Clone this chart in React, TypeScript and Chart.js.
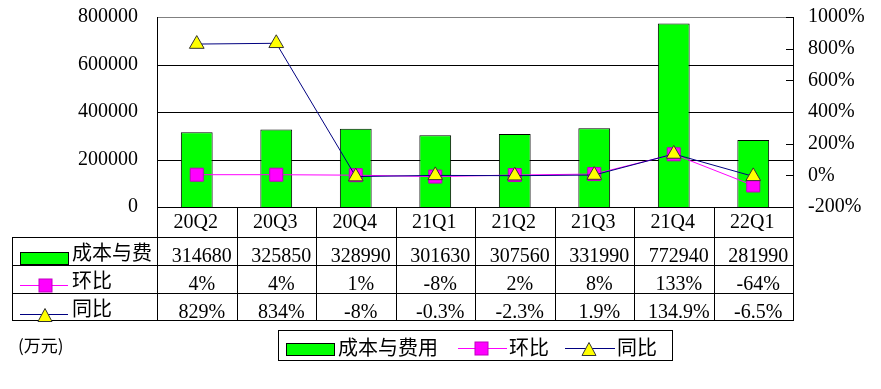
import React, { useEffect, useRef } from "react";
import { Chart, registerables } from "chart.js";

Chart.register(...registerables);

const categories = ["20Q2", "20Q3", "20Q4", "21Q1", "21Q2", "21Q3", "21Q4", "22Q1"];
const costValues = [314680, 325850, 328990, 301630, 307560, 331990, 772940, 281990];
const qoqValues = [4, 4, 1, -8, 2, 8, 133, -64];
const yoyValues = [829, 834, -8, -0.3, -2.3, 1.9, 134.9, -6.5];
const leftTicks = [0, 200000, 400000, 600000, 800000];
const rightTicks = [-200, 0, 200, 400, 600, 800, 1000];
const seriesNames = ["成本与费用", "环比", "同比"];
const unitLabel = "(万元)";

const FONT = '"Liberation Serif", "Noto Sans CJK SC", serif';
const CJK = '"Noto Sans CJK SC", "Liberation Serif", sans-serif';
const GREEN = "#00FF00";
const MAGENTA = "#FF00FF";
const NAVY = "#000080";
const YELLOW = "#FFFF00";

function cr(v: number) {
  return Math.round(v) + 0.5;
}

function line(ctx: CanvasRenderingContext2D, x1: number, y1: number, x2: number, y2: number, color = "#000") {
  ctx.beginPath();
  ctx.strokeStyle = color;
  ctx.lineWidth = 1;
  ctx.moveTo(x1, y1);
  ctx.lineTo(x2, y2);
  ctx.stroke();
}

function square(ctx: CanvasRenderingContext2D, cx: number, cy: number, side: number) {
  ctx.fillStyle = MAGENTA;
  ctx.fillRect(cx - side / 2, cy - side / 2, side, side);
  ctx.strokeStyle = "#c000c0";
  ctx.lineWidth = 1;
  ctx.strokeRect(cx - side / 2, cy - side / 2, side, side);
}

function triangle(ctx: CanvasRenderingContext2D, cx: number, cy: number, w: number, h: number) {
  ctx.beginPath();
  ctx.moveTo(cx, cy - h / 2);
  ctx.lineTo(cx + w / 2, cy + h / 2);
  ctx.lineTo(cx - w / 2, cy + h / 2);
  ctx.closePath();
  ctx.fillStyle = YELLOW;
  ctx.fill();
  ctx.strokeStyle = "#333";
  ctx.lineWidth = 1;
  ctx.stroke();
}

function fmtPct(v: number) {
  return `${v}%`;
}

const tablePlugin = {
  id: "tablePlugin",
  beforeDatasetsDraw(chart: any) {
    const { ctx, chartArea } = chart;
    const { left: L, right: R } = chartArea;
    const yL = chart.scales.y;
    ctx.save();
    leftTicks.forEach((v) => {
      if (v === 0) return;
      const y = cr(yL.getPixelForValue(v));
      line(ctx, L, y, R, y, v === leftTicks[leftTicks.length - 1] ? "#808080" : "#000");
    });
    ctx.restore();
  },
  afterDraw(chart: any) {
    const { ctx, chartArea } = chart;
    const { left: L, right: R, top: T, bottom: B } = chartArea;
    const n = categories.length;
    const colW = (R - L) / n;
    const r0 = B + 30;
    const r1 = B + 58;
    const r2 = B + 86;
    const r3 = B + 113;
    const tL = 12;
    ctx.save();
    // frame
    line(ctx, cr(L), T, cr(L), r3 + 0.5);
    line(ctx, cr(R), T, cr(R), r3 + 0.5);
    for (let i = 1; i < n; i++) {
      const xi = cr(L + i * colW);
      line(ctx, xi, B, xi, r3 + 0.5);
    }
    line(ctx, L, cr(B), R, cr(B));
    [r0, r1, r2, r3].forEach((ry) => line(ctx, tL, cr(ry), R + 1, cr(ry)));
    line(ctx, cr(tL), r0, cr(tL), r3 + 0.5);

    // right axis inward ticks
    const yR = chart.scales.yR;
    rightTicks.forEach((v) => {
      const y = cr(yR.getPixelForValue(v));
      line(ctx, R - 7, y, R, y);
    });

    // header & values
    ctx.fillStyle = "#000";
    ctx.textAlign = "center";
    ctx.textBaseline = "alphabetic";
    ctx.font = `20px ${FONT}`;
    const xs = chart.scales.x;
    categories.forEach((c, i) => {
      const cx = xs.getPixelForValue(i);
      ctx.fillText(c, cx - 1, B + 21);
      ctx.fillText(String(costValues[i]), cx + 5, r1 - 3);
      ctx.fillText(fmtPct(qoqValues[i]), cx + 5, r2 - 3);
      ctx.fillText(fmtPct(yoyValues[i]), cx + 5, r3 - 2);
    });

    // row headers
    ctx.fillStyle = GREEN;
    ctx.fillRect(20, r1 - 13, 48, 13);
    ctx.strokeStyle = "#000";
    ctx.strokeRect(20.5, r1 - 12.5, 48, 12);
    line(ctx, 20, r2 - 7.5, 68, r2 - 7.5, MAGENTA);
    square(ctx, 45.5, r2 - 7.5, 13);
    line(ctx, 20, r3 - 5.5, 68, r3 - 5.5, NAVY);
    triangle(ctx, 45, r3 - 5, 14, 13);

    ctx.textAlign = "left";
    ctx.textBaseline = "middle";
    ctx.font = `20px ${CJK}`;
    ctx.fillStyle = "#000";
    let name0 = seriesNames[0];
    while (name0.length > 1 && 72 + ctx.measureText(name0).width > L) name0 = name0.slice(0, -1);
    ctx.fillText(name0, 72, r0 + 15);
    ctx.fillText(seriesNames[1], 72, r1 + 15);
    ctx.fillText(seriesNames[2], 72, r2 + 15);

    // unit label
    ctx.font = `17px ${CJK}`;
    ctx.fillText(unitLabel, 18, 346);

    // legend
    const lgT = 330;
    const lgB = 360;
    ctx.strokeStyle = "#000";
    ctx.strokeRect(278.5, lgT + 0.5, 394, lgB - lgT);
    ctx.fillStyle = GREEN;
    ctx.fillRect(286, 343, 49, 13);
    ctx.strokeRect(286.5, 343.5, 48, 12);
    ctx.fillStyle = "#000";
    ctx.font = `20px ${CJK}`;
    ctx.fillText(seriesNames[0], 338, 347);
    line(ctx, 458, 348.5, 507, 348.5, MAGENTA);
    square(ctx, 481.5, 348.5, 13);
    ctx.fillStyle = "#000";
    ctx.fillText(seriesNames[1], 509, 347);
    line(ctx, 565, 348.5, 615, 348.5, NAVY);
    triangle(ctx, 589, 349, 14, 13);
    ctx.fillStyle = "#000";
    ctx.fillText(seriesNames[2], 617, 347);
    ctx.restore();
  },
};

export default function App() {
  const ref = useRef<HTMLCanvasElement>(null);
  useEffect(() => {
    const canvas = ref.current;
    if (!canvas) return;
    const chart = new Chart(canvas, {
      type: "bar",
      data: {
        labels: categories,
        datasets: [
          {
            type: "bar",
            label: seriesNames[0],
            data: costValues,
            yAxisID: "y",
            backgroundColor: GREEN,
            borderColor: "#000",
            borderWidth: 1,
            barPercentage: 0.4,
            categoryPercentage: 1,
            order: 3,
          } as any,
          {
            type: "line",
            label: seriesNames[1],
            data: qoqValues,
            yAxisID: "yR",
            borderColor: MAGENTA,
            borderWidth: 1,
            backgroundColor: MAGENTA,
            pointStyle: "rect",
            pointRadius: 9.2,
            pointBackgroundColor: MAGENTA,
            pointBorderColor: "#c000c0",
            pointBorderWidth: 1,
            tension: 0,
            order: 2,
          } as any,
          {
            type: "line",
            label: seriesNames[2],
            data: yoyValues,
            yAxisID: "yR",
            borderColor: NAVY,
            borderWidth: 1,
            backgroundColor: YELLOW,
            pointStyle: "triangle",
            pointRadius: 8.5,
            pointBackgroundColor: YELLOW,
            pointBorderColor: "#333",
            pointBorderWidth: 1,
            tension: 0,
            order: 1,
          } as any,
        ],
      },
      options: {
        animation: false,
        responsive: false,
        devicePixelRatio: 1,
        layout: { padding: { left: 0, right: 0, top: 17, bottom: 182 } },
        plugins: { legend: { display: false }, tooltip: { enabled: false } },
        scales: {
          x: { display: false, offset: true },
          y: {
            position: "left",
            min: 0,
            max: 800000,
            afterFit: (s: any) => {
              s.width = 157;
              s.paddingTop = 0;
              s.paddingBottom = 0;
            },
            afterBuildTicks: (s: any) => {
              s.ticks = leftTicks.map((v) => ({ value: v }));
            },
            grid: { display: false, drawTicks: false },
            border: { display: false },
            ticks: {
              padding: 19,
              color: "#000",
              font: { family: FONT, size: 20 },
              callback: (v: any) => String(v),
            },
          },
          yR: {
            position: "right",
            min: -200,
            max: 1000,
            afterFit: (s: any) => {
              s.width = 88;
              s.paddingTop = 0;
              s.paddingBottom = 0;
            },
            afterBuildTicks: (s: any) => {
              s.ticks = rightTicks.map((v) => ({ value: v }));
            },
            grid: { display: false, drawTicks: false },
            border: { display: false },
            ticks: {
              padding: 15,
              color: "#000",
              font: { family: FONT, size: 20 },
              callback: (v: any) => `${v}%`,
            },
          },
        },
      } as any,
      plugins: [tablePlugin],
    });
    return () => chart.destroy();
  }, []);
  return (
    <div style={{ position: "absolute", left: 0, top: 0, width: 881, height: 389, background: "#fff" }}>
      <canvas ref={ref} width={881} height={389} style={{ display: "block" }} />
    </div>
  );
}
